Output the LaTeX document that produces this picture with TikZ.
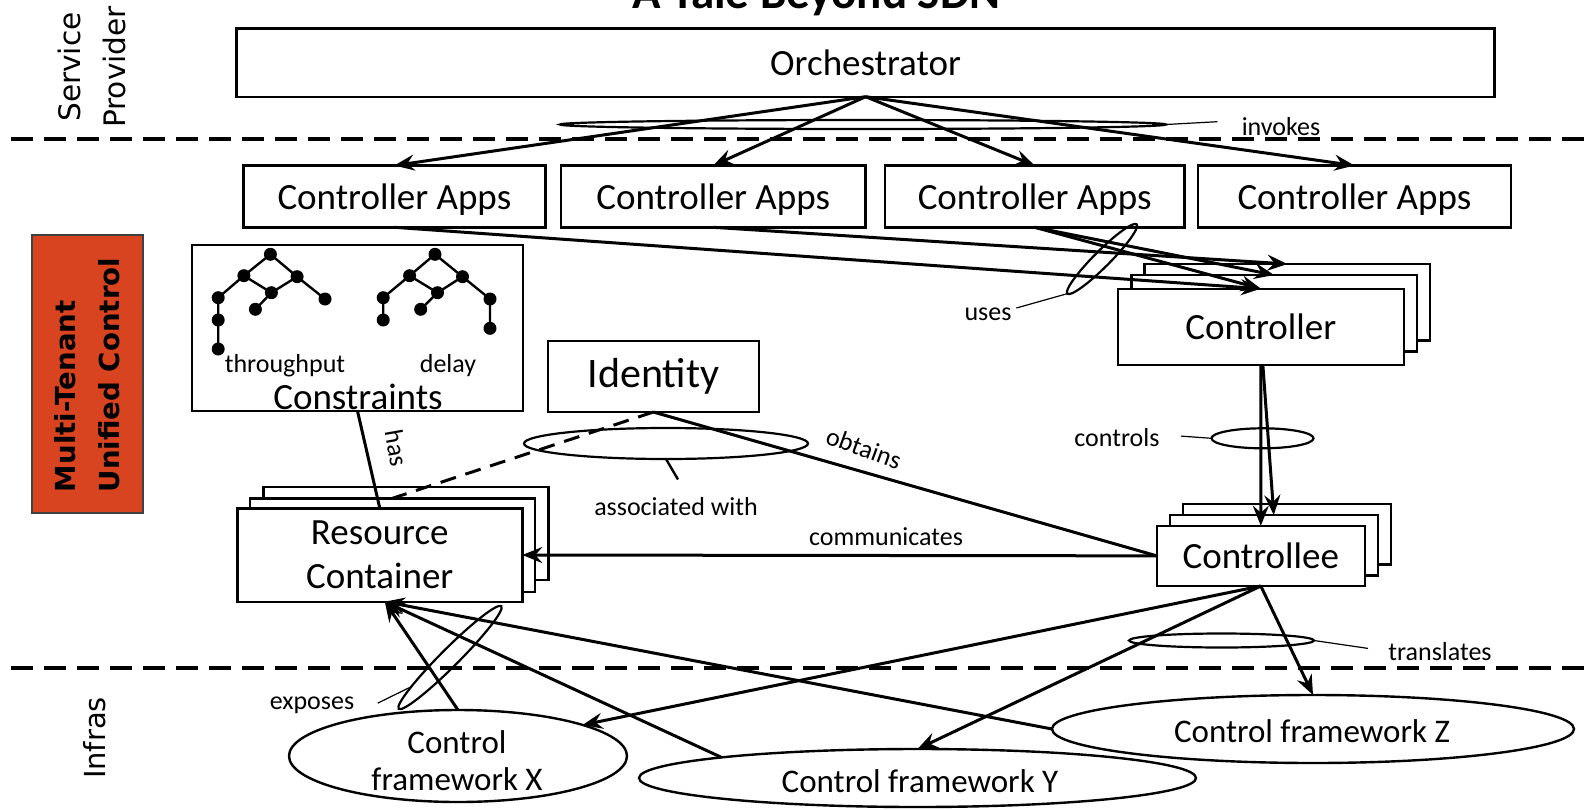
\documentclass[tikz,border=0pt]{standalone}
\usepackage{fontspec}
\setmainfont{Carlito}
\newfontfamily\dvfont{DejaVu Sans}
\usetikzlibrary{arrows.meta,shapes.geometric,calc}
\definecolor{mtred}{RGB}{216,68,32}
\begin{document}
\begin{tikzpicture}[x=0.5pt,y=-0.5pt,
  box/.style={draw,line width=1.2pt,fill=white,inner sep=0pt,outer sep=0pt},
  lbl/.style={font=\fontsize{18.5}{22.2}\selectfont},
  small/.style={font=\fontsize{13}{15.6}\selectfont,inner sep=0pt},
  arr/.style={line width=1.5pt,-{Stealth[length=10pt,width=8pt,inset=3.5pt]}},
  conn/.style={line width=1.5pt},
  ring/.style={draw,ellipse,line width=1.1pt,inner sep=0pt,outer sep=0pt},
  leader/.style={line width=0.6pt},
  fw/.style={draw,ellipse,line width=1.2pt,inner sep=0pt,outer sep=0pt},
  fwtxt/.style={font=\fontsize{16.5}{18.5}\selectfont,align=center,inner sep=0pt},
  sep/.style={line width=2pt,dash pattern=on 11pt off 5.5pt,dash phase=11pt},
  dot/.style={circle,fill=black,inner sep=0pt,minimum size=6.5pt},
  tedge/.style={line width=1.2pt},
  appbox/.style={box,lbl,text depth=0pt,minimum height=30.9pt}
]
\useasboundingbox (0,0) rectangle (1585,809);

% title (cut off at top)
\node[font=\bfseries\fontsize{23.5}{28}\selectfont,anchor=base,inner sep=0pt] (title) at (816.5,8.3) {A Tale Beyond SDN};

% separators
\draw[sep] (0,139) -- (1585,139);
\draw[sep] (0,667.5) -- (1585,667.5);

% side labels
\node[font=\dvfont\fontsize{14.8}{22.5}\selectfont,rotate=90,align=center] (sp) at (92,67) {Service\\Provider};
\node[font=\dvfont\fontsize{14.5}{17}\selectfont,rotate=90] (inf) at (94.5,738) {Infras};
\node[draw=black!75,line width=0.8pt,fill=mtred,minimum width=55.5pt,minimum height=139pt,inner sep=0pt] (mt) at (87.5,374) {};
\node[rotate=90,align=left,font=\dvfont\bfseries\fontsize{13.8}{22}\selectfont] (mtt) at (87.5,375) {Multi-Tenant\\Unified Control};

% orchestrator and apps
\node[box,lbl,minimum width=629pt,minimum height=34.2pt] (orch) at (865.6,62.5) {Orchestrator};
\node[appbox,minimum width=151.1pt] (ca1) at (394.4,196.4) {Controller Apps};
\node[appbox,minimum width=152.2pt] (ca2) at (713.2,196.4) {Controller Apps};
\node[appbox,minimum width=149.65pt] (ca3) at (1034.65,196.4) {Controller Apps};
\node[appbox,minimum width=156.6pt] (ca4) at (1354.4,196.4) {Controller Apps};

% constraints
\node[box,minimum width=165.5pt,minimum height=83pt] (cons) at (357.5,328) {};
\draw[tedge] (270.4,254.3) -- (243.9,275.7) -- (218.2,297.7) -- (218.2,320) -- (218.2,349);
\draw[tedge] (270.4,254.3) -- (297.1,276.7) -- (325,299);
\draw[tedge] (243.9,275.7) -- (271.4,292.7) -- (297.1,276.7);
\draw[tedge] (271.4,292.7) -- (255.4,309.3);
\draw[tedge] (435,254.3) -- (409.6,275.7) -- (383.2,297.7) -- (383.2,320);
\draw[tedge] (435,254.3) -- (462.5,276.7) -- (490,299) -- (490,328.3);
\draw[tedge] (409.6,275.7) -- (437.5,292.7) -- (462.5,276.7);
\draw[tedge] (437.5,292.7) -- (420.7,309.3);
\foreach \p/\q [count=\i] in {270.4/254.3,243.9/275.7,297.1/276.7,218.2/297.7,271.4/292.7,325/299,255.4/309.3,218.2/320,218.2/349,
  435/254.3,409.6/275.7,462.5/276.7,383.2/297.7,437.5/292.7,490/299,420.7/309.3,383.2/320,490/328.3}
  \node[dot] (td\i) at (\p,\q) {};
\node[small] (thr) at (285,366) {throughput};
\node[small] (dly) at (448,366) {delay};
\node[lbl,inner sep=0pt] (constxt) at (358,397) {Constraints};

% identity
\node[box,minimum width=105.65pt,minimum height=35.65pt,font=\fontsize{21}{25}\selectfont] (id) at (653.35,376.35) {Identity};

% controller stack
\node[box,minimum width=142.85pt,minimum height=38.15pt] (ctrlC) at (1287.35,302.15) {};
\node[box,minimum width=142.85pt,minimum height=38.15pt] (ctrlB) at (1274.15,313.15) {};
\node[box,lbl,minimum width=142.85pt,minimum height=38.15pt] (ctrlA) at (1260.85,326.85) {Controller};

% controllee stack
\node[box,minimum width=104.1pt,minimum height=30.15pt] (ceC) at (1286.8,534.15) {};
\node[box,minimum width=104.1pt,minimum height=30.15pt] (ceB) at (1273.8,545.15) {};
\node[box,lbl,minimum width=104.1pt,minimum height=30.15pt] (ceA) at (1260.8,555.85) {Controllee};

% resource container stack
\node[box,minimum width=142.5pt,minimum height=46.7pt] (rcC) at (405.8,533.4) {};
\node[box,minimum width=142.5pt,minimum height=46.7pt] (rcB) at (392.5,545) {};
\node[box,lbl,align=center,minimum width=142.5pt,minimum height=46.7pt] (rcA) at (379.8,555) {Resource\\Container};

% control frameworks
\node[fw,minimum width=169pt,minimum height=46pt] (fwX) at (458,756) {};
\node[fwtxt] (fwXt) at (457,761) {Control\\framework X};
\node[fw,minimum width=278.5pt,minimum height=29pt] (fwY) at (917.5,778) {};
\node[fwtxt] (fwYt) at (920,781.5) {Control framework Y};
\node[fw,minimum width=261pt,minimum height=34pt] (fwZ) at (1313,729) {};
\node[fwtxt] (fwZt) at (1312,731) {Control framework Z};

% connectors
\draw[arr] (orch.south) -- (ca1.north);
\draw[arr] (orch.south) -- (ca2.north);
\draw[arr] (orch.south) -- (ca3.north);
\draw[arr] (orch.south) -- (ca4.north);
\draw[arr] (ca1.south) -- (ctrlA.north);
\draw[arr] (ca2.south) -- (ctrlC.north);
\draw[arr] (ca3.south) -- (ctrlB.north);
\draw[arr] (ca3.south) -- (ctrlA.north);
\draw[arr] (ctrlA.south) -- (ceA.north);
\draw[arr] ([xshift=1pt]ctrlA.south) -- (ceB.north);
\draw[arr] (ceA.south) -- (fwZ.north);
\draw[arr] (ceA.south) -- (fwY.north);
\draw[arr] (ceA.south) -- (fwX.14);
\draw[arr] (fwX.north) -- ([xshift=2.5pt]rcA.south);
\draw[arr] (fwY.174) -- ([xshift=2.5pt]rcA.south);
\draw[arr] (fwZ.west) -- ([xshift=2.5pt]rcA.south);
\draw[arr] (ceA.west) -- (rcA.east);
\draw[conn] (id.south) -- (ceA.west);
\draw[conn,dash pattern=on 8pt off 5pt] (id.south) -- (rcB.north);
\draw[conn] (cons.south) -- (rcA.north);

% relation rings and labels
\node[ring,minimum width=303pt,minimum height=4.5pt] (einv) at (863,124.5) {};
\node[small] (tinv) at (1281,126.7) {invokes};
\draw[leader] (einv.east) -- ([xshift=-12pt,yshift=2.5pt]tinv.west);

\node[ring,minimum width=49pt,minimum height=8pt,rotate=45] (euse) at (1102,259) {};
\node[small] (tuse) at (988,314) {uses};
\draw[leader] (euse.west) -- ([xshift=2.25pt,yshift=3pt]tuse.east);

\node[ring,minimum width=51pt,minimum height=10pt] (ectl) at (1262.5,438.3) {};
\node[small] (tctl) at (1117,437.3) {controls};
\draw[leader] (ectl.west) -- ([xshift=10.5pt,yshift=0.6pt]tctl.east);

\node[ring,minimum width=92.5pt,minimum height=7pt] (etr) at (1221.5,640.5) {};
\node[small] (ttr) at (1440,652) {translates};
\draw[leader] (etr.east) -- ([xshift=-10pt,yshift=1.8pt]ttr.west);

\node[ring,minimum width=72.5pt,minimum height=9pt,rotate=45] (eexp) at (450,657.5) {};
\node[small] (texp) at (312,705) {exposes};
\draw[leader] (eexp.172) -- ([xshift=11.5pt,yshift=0.9pt]texp.east);

\node[ring,minimum width=142pt,minimum height=15.5pt] (eass) at (666,443.5) {};
\node[small] (tass) at (676,507) {associated with};
\draw[line width=1.2pt] (eass.south) -- ([xshift=1pt,yshift=9pt]tass.north);

\node[small,rotate=-20] (tobt) at (864,448) {obtains};
\node[small] (tcom) at (886,537) {communicates};
\node[small,rotate=-80] (thas) at (396.5,448) {has};
\end{tikzpicture}
\end{document}
